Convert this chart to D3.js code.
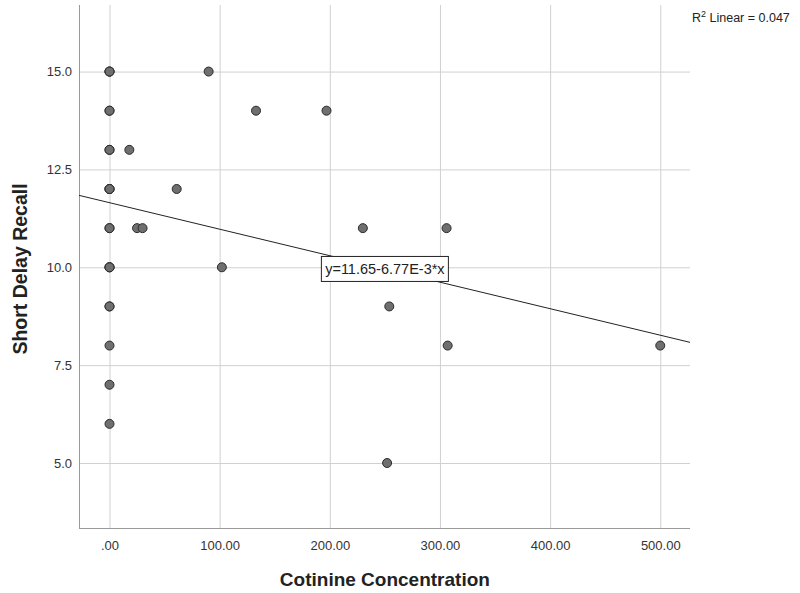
<!DOCTYPE html>
<html>
<head>
<meta charset="utf-8">
<script src="https://cdn.jsdelivr.net/npm/d3@7"></script>
<style>
  body { margin: 0; background: #fff; }
  svg { display: block; font-family: "Liberation Sans", Arial, sans-serif; }
  .grid line { stroke: #d0d0d0; stroke-width: 1; }
  .grid path { display: none; }
  .axis path, .axis line { stroke: #9a9a9a; }
  .axis text { fill: #333; font-size: 13px; }
</style>
</head>
<body>
<div id="chart"></div>
<script>
const width = 800;
const height = 593;
const margin = { top: 5, right: 110, bottom: 65, left: 79 };

// cotinine concentration (x) and short delay recall (y)
const cotinine = [
  0, 0, 0, 0, 0, 0, 0, 0, 0, 0, 0, 0, 0, 0, 0, 0, 0, 0, 0, 0,
  18, 61, 25, 30, 90, 133, 197, 102, 230, 306, 254, 307, 252, 500
];
const recall = [
  15, 15, 15, 14, 14, 13, 13, 12, 12, 12, 11, 11, 10, 10, 10, 9, 9, 8, 7, 6,
  13, 12, 11, 11, 15, 14, 14, 10, 11, 11, 9, 8, 5, 8
];
const xTicks = [0, 100, 200, 300, 400, 500];
const xTickLabels = [".00", "100.00", "200.00", "300.00", "400.00", "500.00"];
const yTicks = [5, 7.5, 10, 12.5, 15];
const fit = { intercept: 11.65, slope: -6.77e-3, r2: 0.047 };

const points = cotinine.map((c, i) => ({ x: c, y: recall[i] }));

const svg = d3.select("#chart").append("svg").attr("width", width).attr("height", height);
const plotWidth = width - margin.left - margin.right;
const plotHeight = height - margin.top - margin.bottom;
const plot = svg.append("g").attr("transform", `translate(${margin.left},${margin.top})`);

const x = d3.scaleLinear().domain([-27.7, 527]).range([0, plotWidth]);
const y = d3.scaleLinear().domain([3.34, 16.7]).range([plotHeight, 0]);

plot.append("g").attr("class", "grid")
  .call(d3.axisLeft(y).tickValues(yTicks).tickSize(-plotWidth).tickFormat(""));
plot.append("g").attr("class", "grid")
  .call(d3.axisBottom(x).tickValues(xTicks).tickSize(plotHeight).tickFormat(""));

const xAxis = plot.append("g").attr("class", "axis")
  .attr("transform", `translate(0,${plotHeight})`)
  .call(d3.axisBottom(x).tickValues(xTicks).tickSize(0).tickPadding(13)
    .tickFormat((d, i) => xTickLabels[i]));
xAxis.select(".domain").attr("d", `M0,0.5H${plotWidth}`);

const yAxis = plot.append("g").attr("class", "axis")
  .call(d3.axisLeft(y).tickValues(yTicks).tickSize(0).tickPadding(7).tickFormat(d3.format(".1f")));
yAxis.select(".domain").attr("d", `M0.5,0V${plotHeight}`);

// fit line
const [x0, x1] = x.domain();
plot.append("line")
  .attr("x1", x(x0)).attr("y1", y(fit.intercept + fit.slope * x0))
  .attr("x2", x(x1)).attr("y2", y(fit.intercept + fit.slope * x1))
  .attr("stroke", "#222").attr("stroke-width", 1);

plot.selectAll("circle")
  .data(points)
  .join("circle")
  .attr("cx", (d) => x(d.x))
  .attr("cy", (d) => y(d.y))
  .attr("r", 4.5)
  .attr("fill", "#6f6f6f")
  .attr("stroke", "#2a2a2a")
  .attr("stroke-width", 1);

// equation label
const eqX = 250;
const eqY = fit.intercept + fit.slope * eqX;
const eqG = plot.append("g").attr("transform", `translate(${x(eqX)},${y(eqY)})`);
eqG.append("rect")
  .attr("x", -63.5).attr("y", -12.5).attr("width", 127).attr("height", 25)
  .attr("fill", "#fff").attr("stroke", "#222").attr("stroke-width", 1);
eqG.append("text")
  .attr("text-anchor", "middle").attr("y", 5.5)
  .attr("font-size", 14.5).attr("fill", "#222")
  .text(`y=${fit.intercept}-6.77E-3*x`);

// R squared
const r2 = svg.append("text").attr("x", 692).attr("y", 22).attr("font-size", 12.5).attr("fill", "#222");
r2.append("tspan").text("R");
r2.append("tspan").attr("dy", -5).attr("font-size", 9).text("2");
r2.append("tspan").attr("dy", 5).text(` Linear = ${fit.r2}`);

// axis titles
svg.append("text")
  .attr("x", margin.left + x(250)).attr("y", 586)
  .attr("text-anchor", "middle").attr("font-size", 19).attr("font-weight", "bold").attr("fill", "#222")
  .text("Cotinine Concentration");

svg.append("text")
  .attr("transform", `translate(27,269) rotate(-90)`)
  .attr("text-anchor", "middle").attr("font-size", 19.5).attr("font-weight", "bold").attr("fill", "#222")
  .text("Short Delay Recall");
</script>
</body>
</html>
